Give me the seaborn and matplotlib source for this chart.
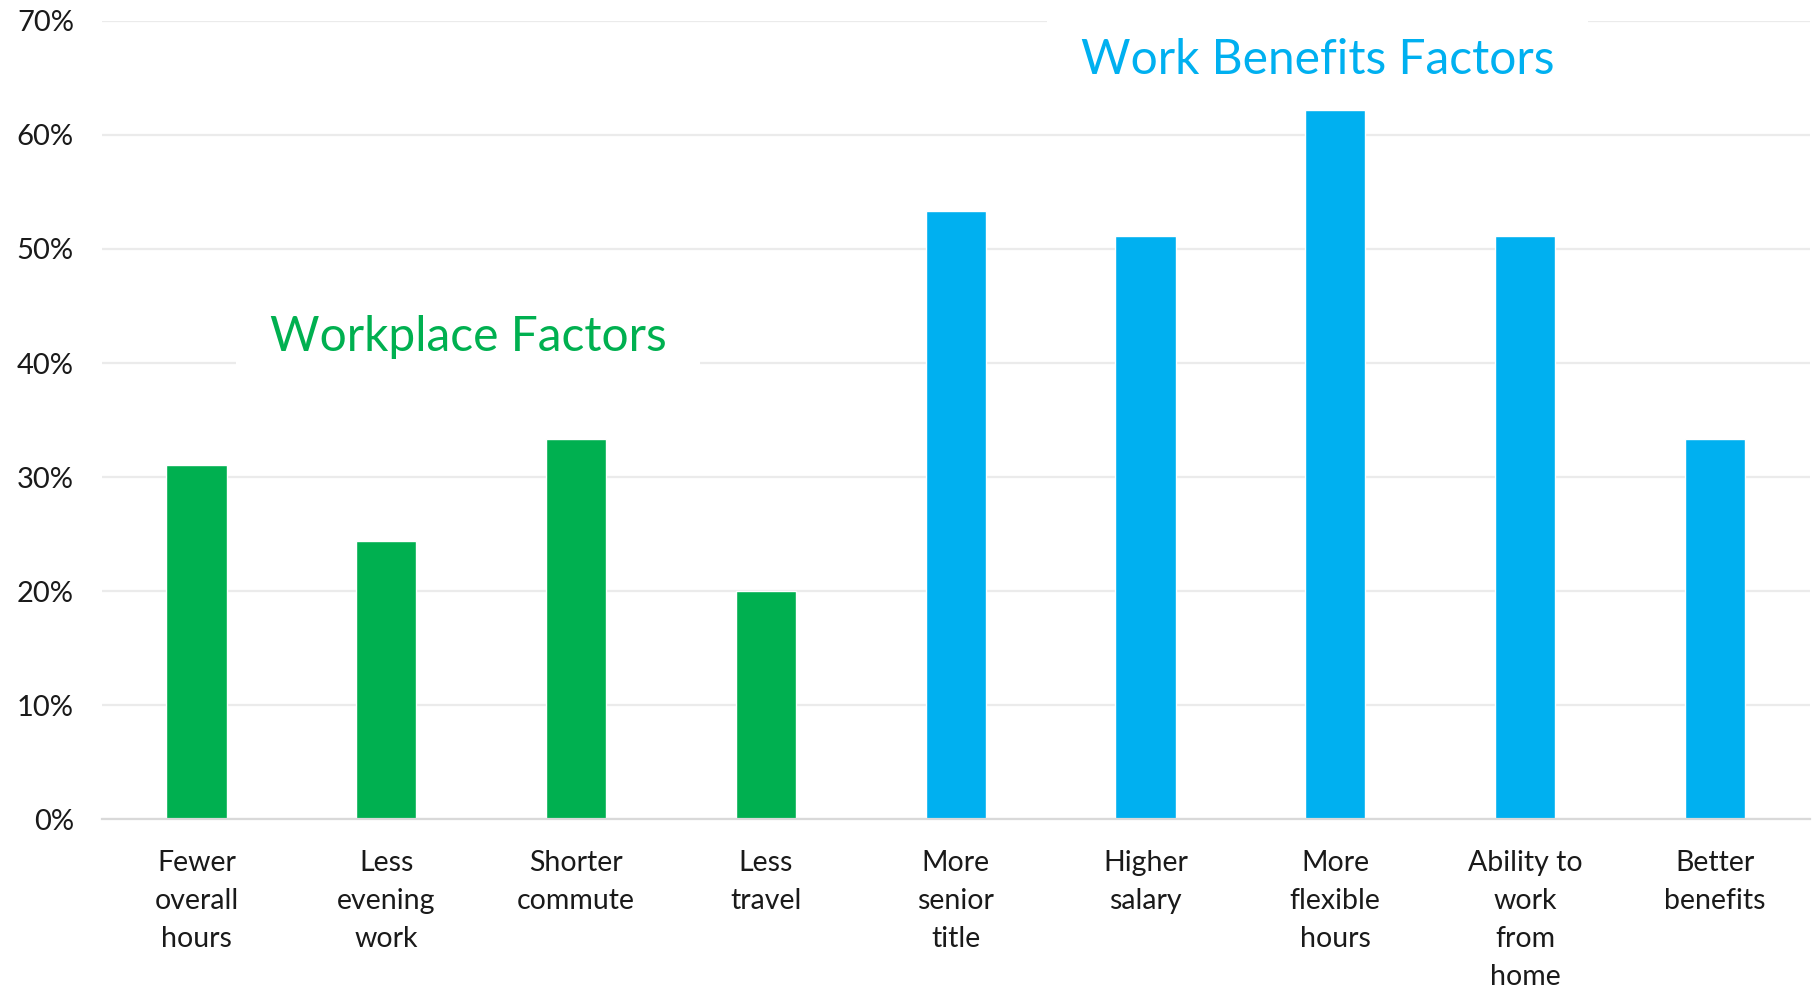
import matplotlib
matplotlib.use("Agg")
import matplotlib.pyplot as plt
import seaborn as sns
import pandas as pd
from matplotlib.ticker import PercentFormatter

# Survey shares (%) of respondents citing each factor
categories = [
    "Fewer\noverall\nhours", "Less\nevening\nwork", "Shorter\ncommute", "Less\ntravel",
    "More\nsenior\ntitle", "Higher\nsalary", "More\nflexible\nhours",
    "Ability to\nwork\nfrom\nhome", "Better\nbenefits",
]
values = [31.1, 24.4, 33.3, 20.0, 53.3, 51.1, 62.2, 51.1, 33.3]
groups = ["Workplace Factors"] * 4 + ["Work Benefits Factors"] * 5
group_colors = {"Workplace Factors": "#00B050", "Work Benefits Factors": "#00B0F0"}

df = pd.DataFrame({"factor": categories, "share": values, "group": groups})

sns.set_theme(style="white")
plt.rcParams["font.family"] = ["Lato", "DejaVu Sans"]

fig = plt.figure(figsize=(18.12, 9.9), dpi=100)
ax = fig.add_axes([0.0561, 0.1724, 0.9426, 0.8066])

sns.barplot(data=df, x="factor", y="share", hue="group", palette=group_colors,
            dodge=False, width=0.317, saturation=1, legend=False, ax=ax)
for bar in ax.patches:
    bar.set_zorder(2)

ax.set_ylim(0, 70)
ax.set_xlim(-0.5, len(categories) - 0.5)
ax.set_yticks(range(0, 71, 10))
ax.yaxis.set_major_formatter(PercentFormatter(decimals=0))
ax.grid(axis="y", color="#EBEBEB", linewidth=1.6, zorder=0)
ax.set_axisbelow(True)
for side in ["left", "right", "top"]:
    ax.spines[side].set_visible(False)
ax.spines["bottom"].set_color("#D9D9D9")
ax.spines["bottom"].set_linewidth(1.6)
ax.set_xlabel("")
ax.set_ylabel("")
ax.tick_params(axis="both", length=0, colors="#1a1a1a")
ax.tick_params(axis="x", pad=22, labelsize=20.5)
ax.tick_params(axis="y", pad=20, labelsize=21)
for lbl in ax.get_xticklabels():
    lbl.set_linespacing(1.58)
    lbl.set_verticalalignment("top")

# Group headings; their white boxes sit above the gridlines but beneath the bars
heading_box = dict(facecolor="white", edgecolor="none", boxstyle="square,pad=0.7")
ax.text(1.43, 42.3, "Workplace Factors", color="#00B050", fontsize=34.5,
        ha="center", va="center", bbox=heading_box, zorder=1)
ax.text(5.906, 66.6, "Work Benefits Factors", color="#00B0F0", fontsize=34.5,
        ha="center", va="center", bbox=heading_box, zorder=1)

fig.savefig("out.png", dpi=100, facecolor="white")
